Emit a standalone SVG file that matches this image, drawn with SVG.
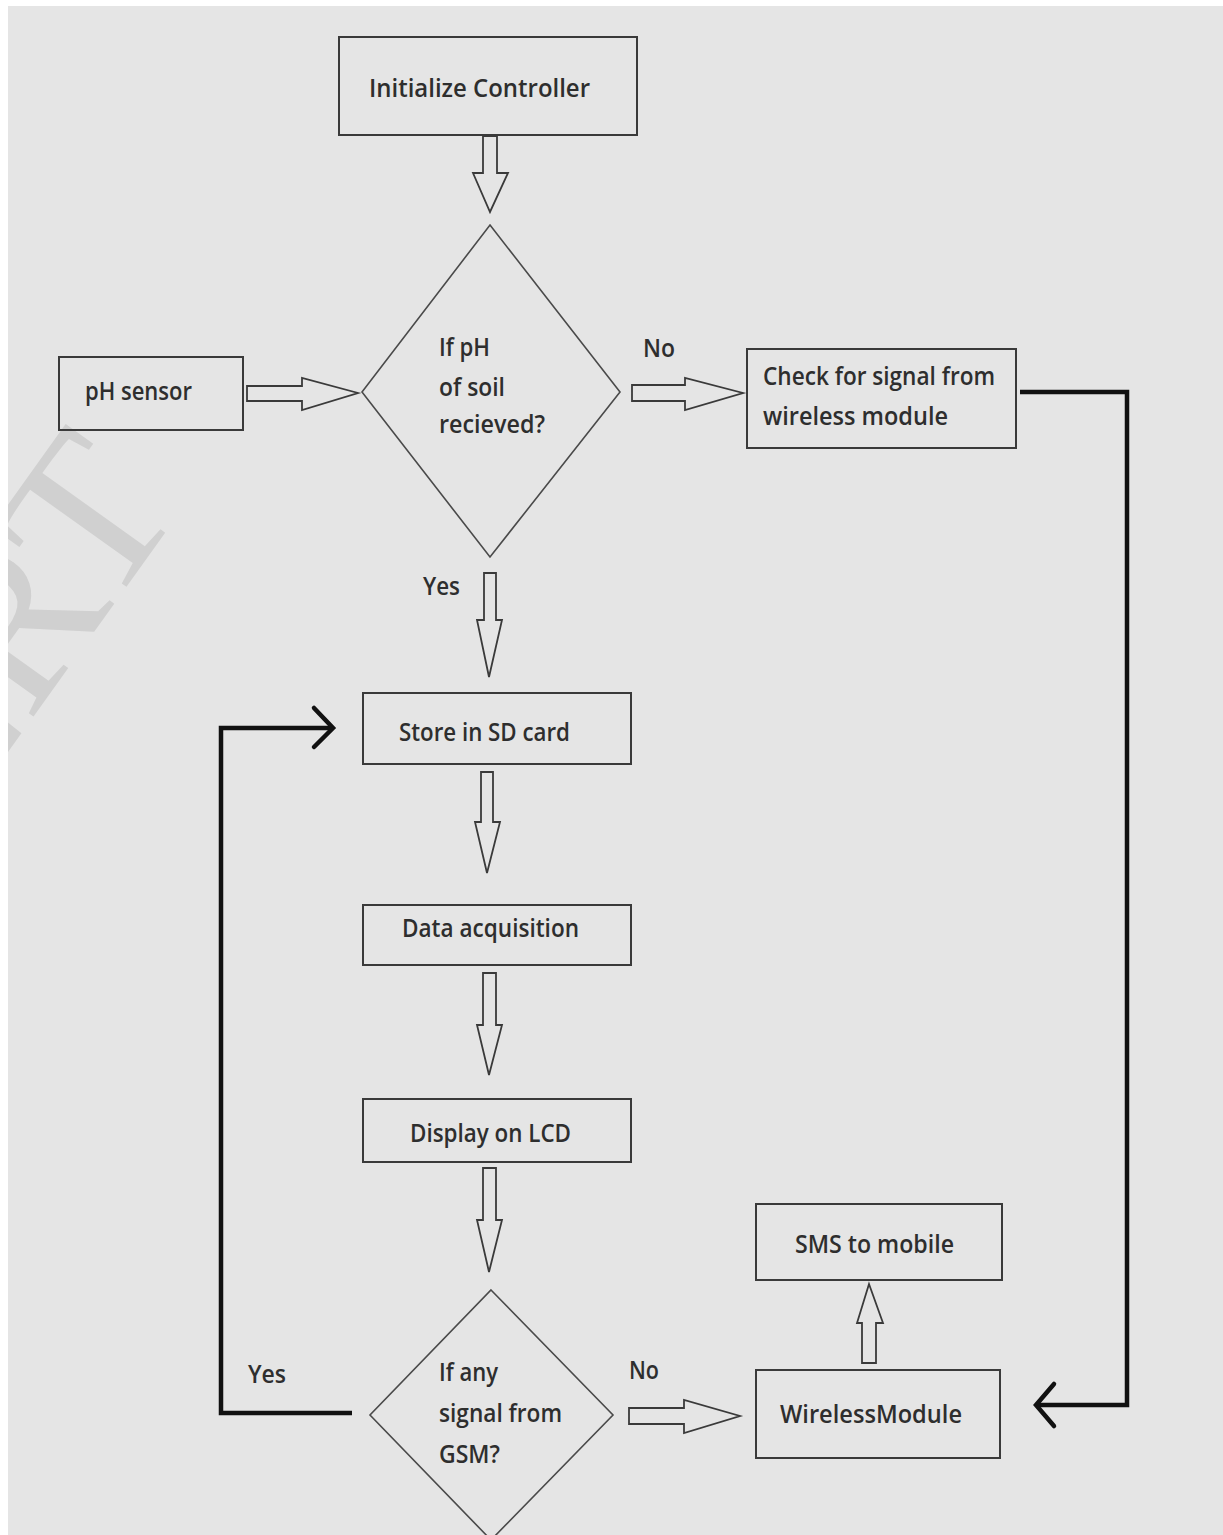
<svg xmlns="http://www.w3.org/2000/svg" width="1223" height="1535" viewBox="0 0 1223 1535">
  <style>
    .box { fill: none; stroke: #3a3a3a; stroke-width: 2; }
    .dia { fill: none; stroke: #4a4a4a; stroke-width: 1.6; }
    .blk { fill: none; stroke: #3a3a3a; stroke-width: 1.8; stroke-linejoin: miter; }
    .thick { fill: none; stroke: #111; stroke-width: 4.5; stroke-linejoin: miter; }
    .chev { fill: none; stroke: #111; stroke-width: 4.5; stroke-linecap: round; stroke-linejoin: miter; }
    text { font-family: "Open Sans", "Liberation Sans", sans-serif; fill: #2e2e2e; font-size: 26px; font-weight: 600; }
    .wm { font-family: "Liberation Serif", serif; font-size: 220px; fill: #d0d0d0; font-weight: normal; }
  </style>
  <defs>
    <clipPath id="bgclip"><rect x="8" y="6" width="1215" height="1529"/></clipPath>
  </defs>
  <rect x="0" y="0" width="1223" height="1535" fill="#ffffff"/>
  <rect x="8" y="6" width="1215" height="1529" fill="#e5e5e5"/>
  <g id="watermark" clip-path="url(#bgclip)">
    <text class="wm" x="0" y="0" text-anchor="end" transform="translate(185,505) rotate(-54.4)">IJERT</text>
  </g>

  <g id="connectors">
    <!-- block arrows -->
    <path class="blk" d="M483,136 V173 H473 L490,212 L508,173 H497 V136 Z"/>
    <path class="blk" d="M247,386 H302 V378 L358,393 L302,410 V401 H247 Z"/>
    <path class="blk" d="M632,385 H685 V378 L743,393 L685,410 V401 H632 Z"/>
    <path class="blk" d="M484,573 V620 H477 L489,677 L502,620 H496 V573 Z"/>
    <path class="blk" d="M481,772 V822 H475 L487,873 L500,822 H493 V772 Z"/>
    <path class="blk" d="M483,973 V1025 H477 L489,1075 L502,1025 H496 V973 Z"/>
    <path class="blk" d="M483,1168 V1220 H477 L489,1272 L502,1220 H496 V1168 Z"/>
    <path class="blk" d="M629,1408 H684 V1400 L740,1416 L684,1433 V1424 H629 Z"/>
    <path class="blk" d="M862,1363 V1323 H857 L869,1284 L883,1323 H876 V1363 Z"/>
    <!-- thick loop lines -->
    <path class="thick" d="M1020,392 H1127 V1405 H1038"/>
    <path class="chev" d="M1054,1384 L1036,1405 L1054,1426"/>
    <path class="thick" d="M352,1413 H221 V728 H330"/>
    <path class="chev" d="M314,708 L333,728 L314,747"/>
    <!-- labels -->
    <text x="643" y="357" textLength="32" lengthAdjust="spacingAndGlyphs" font-size="25">No</text>
    <text x="423" y="595" textLength="37" lengthAdjust="spacingAndGlyphs" font-size="25">Yes</text>
    <text x="248" y="1383" textLength="38" lengthAdjust="spacingAndGlyphs" font-size="25">Yes</text>
    <text x="629" y="1379" textLength="30" lengthAdjust="spacingAndGlyphs" font-size="25">No</text>
  </g>

  <g id="init">
    <rect class="box" x="339" y="37" width="298" height="98"/>
    <text x="369" y="97" font-size="29" textLength="221" lengthAdjust="spacingAndGlyphs">Initialize Controller</text>
  </g>
  <g id="ph-sensor">
    <rect class="box" x="59" y="357" width="184" height="73"/>
    <text x="85" y="400" font-size="25" textLength="107" lengthAdjust="spacingAndGlyphs">pH sensor</text>
  </g>
  <g id="decision-ph">
    <polygon class="dia" points="490,225 620,392 490,557 362,392"/>
    <text x="439" y="356" textLength="51" lengthAdjust="spacingAndGlyphs">If pH</text>
    <text x="439" y="396" textLength="66" lengthAdjust="spacingAndGlyphs">of soil</text>
    <text x="439" y="433" textLength="106" lengthAdjust="spacingAndGlyphs">recieved?</text>
  </g>
  <g id="check-signal">
    <rect class="box" x="747" y="349" width="269" height="99"/>
    <text x="763" y="385" textLength="232" lengthAdjust="spacingAndGlyphs">Check for signal from</text>
    <text x="763" y="425" textLength="185" lengthAdjust="spacingAndGlyphs">wireless module</text>
  </g>
  <g id="store-sd">
    <rect class="box" x="363" y="693" width="268" height="71"/>
    <text x="399" y="741" textLength="171" lengthAdjust="spacingAndGlyphs">Store in SD card</text>
  </g>
  <g id="data-acq">
    <rect class="box" x="363" y="905" width="268" height="60"/>
    <text x="402" y="937" textLength="177" lengthAdjust="spacingAndGlyphs">Data acquisition</text>
  </g>
  <g id="display-lcd">
    <rect class="box" x="363" y="1099" width="268" height="63"/>
    <text x="410" y="1142" textLength="161" lengthAdjust="spacingAndGlyphs">Display on LCD</text>
  </g>
  <g id="decision-gsm">
    <polygon class="dia" points="491,1290 613,1415 491,1540 370,1415"/>
    <text x="439" y="1381" textLength="59" lengthAdjust="spacingAndGlyphs">If any</text>
    <text x="439" y="1422" textLength="123" lengthAdjust="spacingAndGlyphs">signal from</text>
    <text x="439" y="1463" textLength="61" lengthAdjust="spacingAndGlyphs">GSM?</text>
  </g>
  <g id="sms">
    <rect class="box" x="756" y="1204" width="246" height="76"/>
    <text x="795" y="1253" textLength="159" lengthAdjust="spacingAndGlyphs">SMS to mobile</text>
  </g>
  <g id="wireless">
    <rect class="box" x="756" y="1370" width="244" height="88"/>
    <text x="780" y="1423" textLength="182" lengthAdjust="spacingAndGlyphs">WirelessModule</text>
  </g>
</svg>
